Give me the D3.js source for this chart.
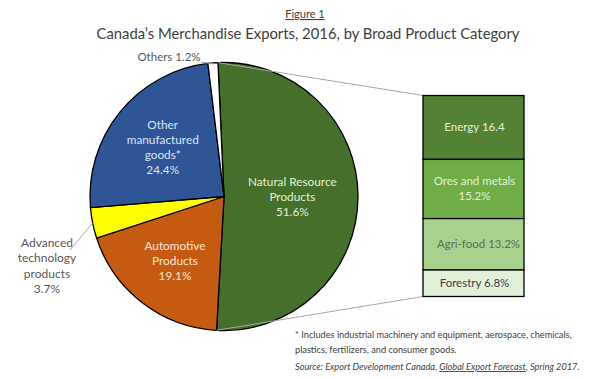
<!DOCTYPE html>
<html lang="en">
<head>
    <meta charset="UTF-8">
    <title>Canada's Merchandise Exports, 2016</title>
    <script src="https://d3js.org/d3.v7.min.js"></script>
    <style>
        body { margin: 0; background: #fff; }
        text { font-family: Lato, "Open Sans", sans-serif; }
    </style>
</head>
<body>
    <script>
        // Data
        const categories = ['Natural Resource Products', 'Automotive Products', 'Advanced technology products', 'Other manufactured goods*', 'Others'];
        const shares = [51.6, 19.1, 3.7, 24.4, 1.2];
        const pieLabels = [
            ['Natural Resource', 'Products', '51.6%'],
            ['Automotive', 'Products', '19.1%'],
            ['Advanced', 'technology', 'products', '3.7%'],
            ['Other', 'manufactured', 'goods*', '24.4%'],
            ['Others 1.2%']
        ];
        const subCategories = ['Energy', 'Ores and metals', 'Agri-food', 'Forestry'];
        const subShares = [16.4, 15.2, 13.2, 6.8];
        const subLabels = [['Energy 16.4'], ['Ores and metals', '15.2%'], ['Agri-food 13.2%'], ['Forestry 6.8%']];

        const width = 610;
        const height = 379;
        const svg = d3.select('body')
            .append('svg')
            .attr('width', width)
            .attr('height', height);

        // Titles
        svg.append('text')
            .attr('x', 305).attr('y', 18)
            .attr('text-anchor', 'middle')
            .attr('font-size', 11)
            .attr('fill', '#404040')
            .attr('text-decoration', 'underline')
            .text('Figure 1');
        svg.append('text')
            .attr('x', 308).attr('y', 39)
            .attr('text-anchor', 'middle')
            .attr('font-size', 16)
            .attr('textLength', 423)
            .attr('lengthAdjust', 'spacingAndGlyphs')
            .attr('fill', '#404040')
            .text('Canada’s Merchandise Exports, 2016, by Broad Product Category');

        // Pie
        const cx = 224, cy = 196.5, r = 134;
        const offset = -0.045;
        const pieColors = ['#456f2a', '#c55a11', '#ffff00', '#2f5597', '#ffffff'];
        const textColors = ['#e2f0d9', '#fbe5d6', '#595959', '#dae3f3', '#595959'];
        const labelRadius = [0.51, 0.6, 0, 0.59, 0];

        const pie = d3.pie().sort(null).startAngle(offset).endAngle(offset + 2 * Math.PI);
        const arcs = pie(shares);
        const arc = d3.arc().innerRadius(0).outerRadius(r);

        const g = svg.append('g').attr('transform', `translate(${cx},${cy})`);

        // Connector lines to the breakdown box
        const boxX = 423, boxW = 101, boxTop = 95.5, boxBottom = 296.5;
        const nr = arcs[0];
        const p0 = [cx + r * Math.sin(nr.startAngle), cy - r * Math.cos(nr.startAngle)];
        const p1 = [cx + r * Math.sin(nr.endAngle), cy - r * Math.cos(nr.endAngle)];
        svg.append('line')
            .attr('x1', p0[0]).attr('y1', p0[1]).attr('x2', boxX).attr('y2', boxTop)
            .attr('stroke', '#a6a6a6').attr('stroke-width', 1);
        svg.append('line')
            .attr('x1', p1[0]).attr('y1', p1[1]).attr('x2', boxX).attr('y2', boxBottom)
            .attr('stroke', '#a6a6a6').attr('stroke-width', 1);

        g.selectAll('path')
            .data(arcs)
            .enter()
            .append('path')
            .attr('d', arc)
            .attr('fill', (d, i) => pieColors[i])
            .attr('stroke', '#000')
            .attr('stroke-width', 1.3);

        // Labels inside slices
        const lineH = 15;
        arcs.forEach((d, i) => {
            if (!labelRadius[i]) return;
            const mid = (d.startAngle + d.endAngle) / 2;
            const lx = labelRadius[i] * r * Math.sin(mid);
            const ly = -labelRadius[i] * r * Math.cos(mid);
            const lines = pieLabels[i];
            const t = g.append('text')
                .attr('text-anchor', 'middle')
                .attr('font-size', 11.8)
                .attr('fill', textColors[i]);
            lines.forEach((s, k) => {
                t.append('tspan')
                    .attr('x', lx)
                    .attr('y', ly + (k - (lines.length - 1) / 2) * lineH + 4.5)
                    .text(s);
            });
        });

        // Outside labels: Others and Advanced technology
        const oth = arcs[4];
        const othMid = (oth.startAngle + oth.endAngle) / 2;
        svg.append('line')
            .attr('x1', 201).attr('y1', 62)
            .attr('x2', cx + (r - 1) * Math.sin(othMid)).attr('y2', cy - (r - 1) * Math.cos(othMid))
            .attr('stroke', '#a6a6a6');
        svg.append('text')
            .attr('x', 169).attr('y', 61)
            .attr('text-anchor', 'middle')
            .attr('font-size', 11.5)
            .attr('fill', '#595959')
            .text(pieLabels[4][0]);

        const adv = arcs[2];
        const advMid = (adv.startAngle + adv.endAngle) / 2;
        svg.append('line')
            .attr('x1', cx + r * Math.sin(advMid)).attr('y1', cy - r * Math.cos(advMid))
            .attr('x2', 70).attr('y2', 250)
            .attr('stroke', '#a6a6a6');
        const advText = svg.append('text')
            .attr('text-anchor', 'middle')
            .attr('font-size', 12)
            .attr('fill', '#595959');
        pieLabels[2].forEach((s, k) => {
            advText.append('tspan')
                .attr('x', 47)
                .attr('y', 247 + k * 15.3)
                .text(s);
        });

        // Breakdown box for natural resources
        const y = d3.scaleLinear()
            .domain([0, d3.sum(subShares)])
            .range([boxTop, boxBottom]);
        const stacked = d3.cumsum(subShares);
        const subColors = ['#548235', '#70ad47', '#a9d18e', '#e2f0d9'];
        const subText = ['#e2f0d9', '#e2f0d9', '#5b7048', '#404040'];

        svg.selectAll('rect.sub')
            .data(subShares)
            .enter()
            .append('rect')
            .attr('class', 'sub')
            .attr('x', boxX)
            .attr('y', (d, i) => y(stacked[i] - d))
            .attr('width', boxW)
            .attr('height', d => y(d) - y(0))
            .attr('fill', (d, i) => subColors[i])
            .attr('stroke', '#000')
            .attr('stroke-width', 1.3);

        subLabels.forEach((lines, i) => {
            const mid = y(stacked[i] - subShares[i] / 2);
            const t = svg.append('text')
                .attr('text-anchor', 'middle')
                .attr('font-size', 11.5)
                .attr('fill', subText[i]);
            lines.forEach((s, k) => {
                t.append('tspan')
                    .attr('x', boxX + boxW / 2 + (i === 2 ? 5 : 1))
                    .attr('y', mid + (k - (lines.length - 1) / 2) * 15 + 4)
                    .text(s);
            });
        });

        // Footnotes
        const foot = svg.append('g').attr('font-size', 9.2).attr('fill', '#404040');
        foot.append('text').attr('x', 295).attr('y', 338)
            .text('* Includes industrial machinery and equipment, aerospace, chemicals,');
        foot.append('text').attr('x', 295).attr('y', 352.5)
            .text('plastics, fertilizers, and consumer goods.');
        const src = foot.append('text').attr('x', 295).attr('y', 370).attr('font-style', 'italic');
        src.append('tspan').text('Source:  Export Development Canada, ');
        src.append('tspan').attr('text-decoration', 'underline').text('Global Export Forecast');
        src.append('tspan').text(', Spring 2017.');
    </script>
</body>
</html>
